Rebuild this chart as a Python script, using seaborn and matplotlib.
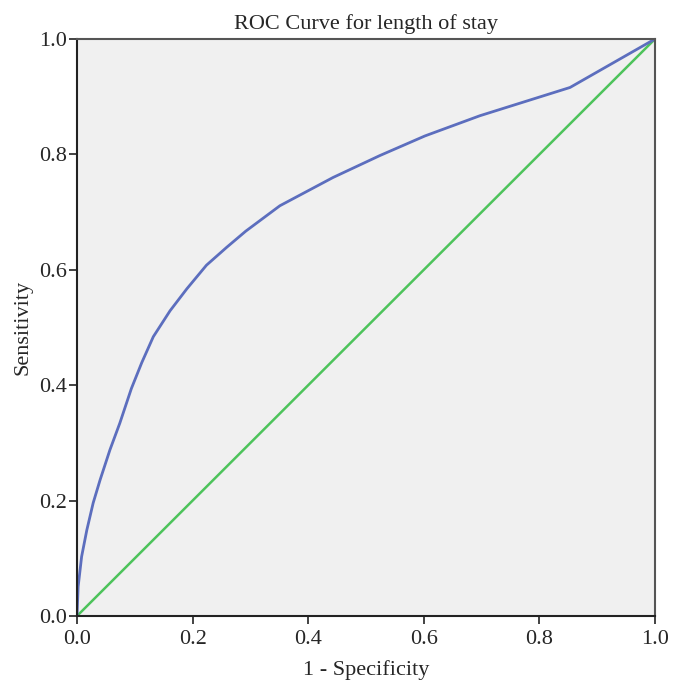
import matplotlib
matplotlib.use("Agg")
import matplotlib.pyplot as plt
import seaborn as sns
import pandas as pd

# ROC curve points (1 - specificity, sensitivity)
fpr = [0.0, 0.002, 0.008, 0.017, 0.028, 0.040, 0.057, 0.074, 0.094, 0.112,
       0.132, 0.161, 0.190, 0.224, 0.259, 0.292, 0.351, 0.443, 0.524, 0.602,
       0.697, 0.853, 1.0]
tpr = [0.0, 0.051, 0.103, 0.149, 0.196, 0.236, 0.288, 0.334, 0.394, 0.439,
       0.484, 0.529, 0.567, 0.608, 0.639, 0.667, 0.711, 0.760, 0.798, 0.832,
       0.867, 0.916, 1.0]
ref_x = [0.0, 1.0]
ref_y = [0.0, 1.0]
ticks = [0.0, 0.2, 0.4, 0.6, 0.8, 1.0]

sns.set_style("ticks")
plt.rcParams['font.family'] = ['Liberation Serif', 'DejaVu Serif']

fig = plt.figure(figsize=(6.73, 6.82), dpi=100)
ax = fig.add_axes([77/673, 66/682, 578/673, 577/682])
ax.set_facecolor("#F0F0F0")

roc = pd.DataFrame({"x": fpr, "y": tpr})
ref = pd.DataFrame({"x": ref_x, "y": ref_y})
sns.lineplot(data=ref, x="x", y="y", ax=ax, color="#4DC35B", lw=1.8, sort=False)
sns.lineplot(data=roc, x="x", y="y", ax=ax, color="#5C6EBE", lw=2.0, sort=False)

ax.set_xlim(0, 1)
ax.set_ylim(0, 1)
ax.set_xticks(ticks)
ax.set_yticks(ticks)
ax.set_xticklabels([f"{t:.1f}" for t in ticks])
ax.set_yticklabels([f"{t:.1f}" for t in ticks])
ax.tick_params(axis="both", labelsize=16, length=6, width=1.2, color="#222222", direction="out")
ax.tick_params(axis="x", pad=4)
ax.tick_params(axis="y", pad=1)
for s in ["left", "bottom"]:
    ax.spines[s].set_color("#222222")
    ax.spines[s].set_linewidth(1.5)
for s in ["top", "right"]:
    ax.spines[s].set_color("#555555")
    ax.spines[s].set_linewidth(1.5)

ax.set_xlabel("1 - Specificity", fontsize=16, labelpad=8)
ax.set_ylabel("Sensitivity", fontsize=16, labelpad=5)
ax.set_title("ROC Curve for length of stay", fontsize=16, pad=7)

fig.savefig("out.png", dpi=100)
